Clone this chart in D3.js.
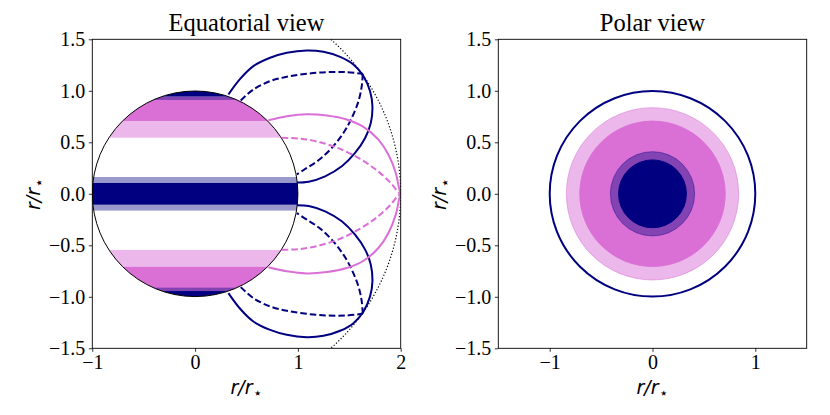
<!DOCTYPE html>
<html>
<head>
<meta charset="utf-8">
<script src="https://cdn.jsdelivr.net/npm/d3@7"></script>
<style>
  body { margin: 0; background: #fff; }
  .title { font-family: "Liberation Serif", "Times New Roman", serif; font-size: 24.5px; text-anchor: middle; }
  .label { font-family: "DejaVu Sans", sans-serif; font-size: 19px; font-style: italic; text-anchor: middle; }
</style>
</head>
<body>
<div id="chart"></div>
<script>
// ---- data (units of r/r*) ----

// coloured latitude bands on the star, equatorial view (bottom/top heights)
var bandKind = ["halo", "ring", "rim", "cap", "halo", "ring", "rim", "cap", "rim", "cap"];
var bandLow  = [0.545, 0.707, 0.911, 0.944, -0.707, -0.944, -0.944, -1.000, -0.163, -0.105];
var bandHigh = [0.707, 0.944, 0.944, 1.000, -0.545, -0.707, -0.911, -0.944, 0.163, 0.105];

// same bands seen from the pole (disc radii)
var discKind = ["halo", "ring", "rim", "cap"];
var discRadius = [0.838, 0.707, 0.41, 0.33];
var limbRadius = 1.0;
var starRadius = 1.0;
var corotationRadius = 2.0;

// northern field lines (the southern ones are the mirror image)
var navyLoop = [[0.324, 0.964], [0.438, 1.116], [0.567, 1.240], [0.730, 1.321], [0.892, 1.369],
  [1.086, 1.392], [1.248, 1.379], [1.411, 1.330], [1.540, 1.256], [1.638, 1.142],
  [1.702, 0.996], [1.725, 0.850], [1.709, 0.688], [1.654, 0.542], [1.556, 0.397],
  [1.427, 0.267], [1.265, 0.170], [1.105, 0.118], [0.990, 0.110]];
var navyDashOuter = [[0.444, 0.906], [0.567, 1.013], [0.730, 1.094], [0.892, 1.136], [1.086, 1.165],
  [1.281, 1.181], [1.475, 1.181], [1.631, 1.165]];
var navyDashInner = [[1.631, 1.165], [1.621, 1.045], [1.589, 0.899], [1.524, 0.737], [1.443, 0.591],
  [1.329, 0.445], [1.200, 0.325], [1.086, 0.251], [0.990, 0.188]];
var pinkLine = [[0.713, 0.714], [0.892, 0.753], [1.086, 0.773], [1.281, 0.760], [1.475, 0.721],
  [1.638, 0.650], [1.783, 0.526], [1.881, 0.380], [1.952, 0.202], [1.984, 0.056], [2.000, 0.000]];
var pinkDash = [[0.843, 0.543], [1.021, 0.536], [1.216, 0.500], [1.411, 0.436], [1.606, 0.338],
  [1.768, 0.228], [1.897, 0.111], [1.978, 0.014], [2.000, 0.000]];

var eqXTicks = [-1, 0, 1, 2];
var polXTicks = [-1, 0, 1];
var yTicks = [-1.5, -1.0, -0.5, 0.0, 0.5, 1.0, 1.5];

// ---- styles ----
var navy = "#000080", orchid = "#da70d6";
var kindStyle = {
  halo: {fill: orchid, op: 0.5},
  ring: {fill: orchid, op: 1},
  rim:  {fill: navy, op: 0.4},
  cap:  {fill: navy, op: 1}
};
var serif = "'Liberation Serif', 'Times New Roman', serif";

var svg = d3.select("#chart").append("svg")
    .attr("width", 830)
    .attr("height", 415);

var plotTop = 39.3, plotBottom = 348.3, plotSize = 308.4;

function styleAxis(g) {
    g.select(".domain").remove();
    g.attr("font-family", serif).attr("font-size", 20);
    g.selectAll(".tick line").attr("stroke", "#000").attr("stroke-width", 0.8);
    g.selectAll(".tick text").attr("fill", "#000");
}

function makeAxes(name, x0, xDomain, xTicks, title) {
    var ax = {};
    ax.x = d3.scaleLinear().domain(xDomain).range([x0, x0 + plotSize]);
    ax.y = d3.scaleLinear().domain([-1.5, 1.5]).range([plotBottom, plotTop]);
    // mirrored scale for the southern hemisphere
    ax.yS = d3.scaleLinear().domain([1.5, -1.5]).range([plotBottom, plotTop]);

    svg.append("clipPath").attr("id", "clip-" + name)
        .append("rect")
        .attr("x", x0).attr("y", plotTop)
        .attr("width", plotSize).attr("height", plotBottom - plotTop);

    ax.g = svg.append("g").attr("clip-path", "url(#clip-" + name + ")");

    var xAxis = d3.axisBottom(ax.x).tickValues(xTicks).tickFormat(d3.format("d"))
        .tickSizeOuter(0).tickSize(3.5).tickPadding(3.5);
    var yAxis = d3.axisLeft(ax.y).tickValues(yTicks).tickFormat(d3.format(".1f"))
        .tickSizeOuter(0).tickSize(3.5).tickPadding(3.5);

    ax.frame = function() {
        svg.append("g").attr("transform", "translate(0," + plotBottom + ")").call(xAxis).call(styleAxis);
        svg.append("g").attr("transform", "translate(" + x0 + ",0)").call(yAxis).call(styleAxis);

        svg.append("rect")
            .attr("x", x0).attr("y", plotTop)
            .attr("width", plotSize).attr("height", plotBottom - plotTop)
            .attr("fill", "none").attr("stroke", "#000").attr("stroke-width", 0.9);

        svg.append("text").attr("class", "title")
            .attr("x", x0 + plotSize / 2).attr("y", 31)
            .text(title);

        var xl = svg.append("text").attr("class", "label")
            .attr("x", x0 + plotSize / 2).attr("y", 394);
        xl.append("tspan").text("r/r");
        xl.append("tspan").attr("font-size", "15px").attr("font-style", "normal").attr("dy", 4).attr("dx", 0.5).text("\u22c6");

        var yl = svg.append("text").attr("class", "label")
            .attr("transform", "translate(" + (x0 - 52) + "," + 194 + ") rotate(-90)");
        yl.append("tspan").text("r/r");
        yl.append("tspan").attr("font-size", "15px").attr("font-style", "normal").attr("dy", 4).attr("dx", 0.5).text("\u22c6");
    };
    return ax;
}

// ---- equatorial view ----
var eq = makeAxes("eq", 92.3, [-1, 2], eqXTicks, "Equatorial view");
var sx = function(r) { return eq.x(r) - eq.x(0); };

svg.append("clipPath").attr("id", "clip-star")
    .append("circle")
    .attr("cx", eq.x(0)).attr("cy", eq.y(0)).attr("r", sx(starRadius));

var star = eq.g.append("g").attr("clip-path", "url(#clip-star)");
star.append("circle")
    .attr("cx", eq.x(0)).attr("cy", eq.y(0)).attr("r", sx(starRadius))
    .attr("fill", "#fff");

star.selectAll("rect.band")
    .data(d3.range(bandKind.length))
    .enter().append("rect")
    .attr("class", "band")
    .attr("x", eq.x(-1.05))
    .attr("width", eq.x(1.05) - eq.x(-1.05))
    .attr("y", function(i) { return eq.y(bandHigh[i]); })
    .attr("height", function(i) { return eq.y(bandLow[i]) - eq.y(bandHigh[i]); })
    .attr("fill", function(i) { return kindStyle[bandKind[i]].fill; })
    .attr("fill-opacity", function(i) { return kindStyle[bandKind[i]].op; });

eq.g.append("circle")
    .attr("cx", eq.x(0)).attr("cy", eq.y(0)).attr("r", sx(starRadius))
    .attr("fill", "none").attr("stroke", "#000").attr("stroke-width", 1);

eq.g.append("circle")
    .attr("cx", eq.x(0)).attr("cy", eq.y(0)).attr("r", sx(corotationRadius))
    .attr("fill", "none").attr("stroke", "#000").attr("stroke-width", 1.2)
    .attr("stroke-dasharray", "1.2,2");

var fieldLines = [
    {pts: navyLoop, color: navy, dash: null},
    {pts: navyDashOuter, color: navy, dash: "6.5,3"},
    {pts: navyDashInner, color: navy, dash: "6.5,3"},
    {pts: pinkLine, color: orchid, dash: null},
    {pts: pinkDash, color: orchid, dash: "6.5,3"}
];

[eq.y, eq.yS].forEach(function(yScale) {
    var line = d3.line()
        .curve(d3.curveCatmullRom.alpha(0.5))
        .x(function(d) { return eq.x(d[0]); })
        .y(function(d) { return yScale(d[1]); });
    fieldLines.forEach(function(f) {
        eq.g.append("path")
            .attr("d", line(f.pts))
            .attr("fill", "none")
            .attr("stroke", f.color)
            .attr("stroke-width", 2)
            .attr("stroke-dasharray", f.dash);
    });
});

eq.frame();

// ---- polar view ----
var pol = makeAxes("pol", 498.3, [-1.5, 1.5], polXTicks, "Polar view");
var px = function(r) { return pol.x(r) - pol.x(0); };

pol.g.selectAll("circle.disc")
    .data(d3.range(discKind.length))
    .enter().append("circle")
    .attr("class", "disc")
    .attr("cx", pol.x(0)).attr("cy", pol.y(0))
    .attr("r", function(i) { return px(discRadius[i]); })
    .attr("fill", function(i) { return kindStyle[discKind[i]].fill; })
    .attr("fill-opacity", function(i) { return kindStyle[discKind[i]].op; })
    .attr("stroke", function(i) { return kindStyle[discKind[i]].fill; })
    .attr("stroke-opacity", function(i) { return kindStyle[discKind[i]].op; })
    .attr("stroke-width", 1);

pol.g.append("circle")
    .attr("cx", pol.x(0)).attr("cy", pol.y(0)).attr("r", px(limbRadius))
    .attr("fill", "none").attr("stroke", navy).attr("stroke-width", 2);

pol.frame();
</script>
</body>
</html>
